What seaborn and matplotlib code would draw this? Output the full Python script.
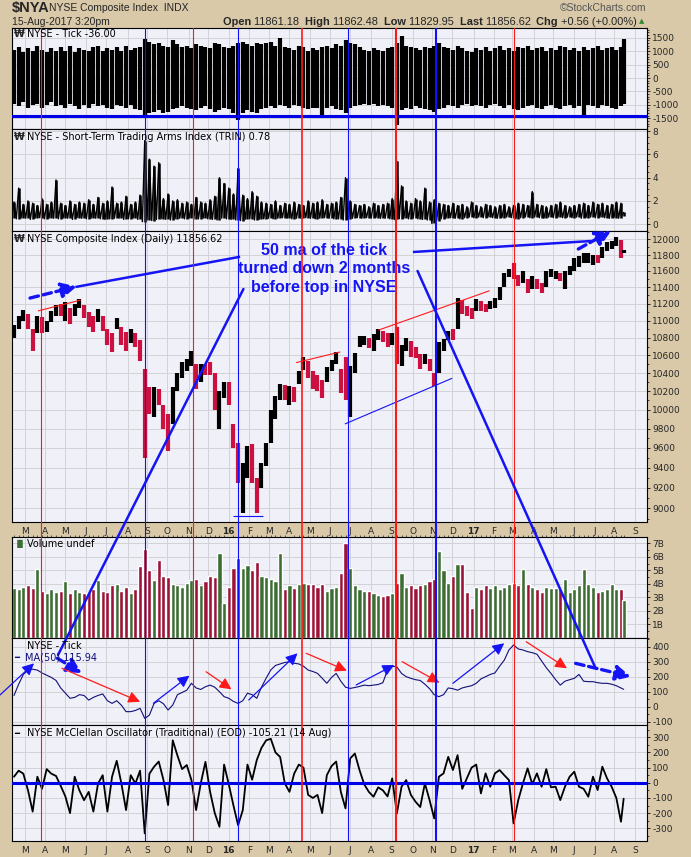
import numpy as np
import pandas as pd
import matplotlib
matplotlib.use("Agg")
import matplotlib.pyplot as plt
import matplotlib.dates as mdates
from matplotlib.patches import ConnectionPatch
from matplotlib.ticker import FixedLocator, FixedFormatter, NullLocator, NullFormatter
import seaborn as sns

# ---------------- data: weekly samples ----------------
weeks = list(pd.date_range("2015-02-13", "2017-08-11", freq="W-FRI")) + [pd.Timestamp("2017-08-15")]

price_close = [
    10900, 11020, 11080, 10950, 10700, 11000, 10900, 10950, 11080, 11150,
    11120, 11150, 11000, 11150, 11230, 11080, 10950, 10900, 11100, 10950,
    10800, 10700, 10980, 10800, 10760, 10820, 10780, 10560, 10150, 10050,
    10150, 10120, 9900, 9700, 10200, 10350, 10480, 10520, 10550, 10250,
    10470, 10440, 10400, 10050, 10100, 10250, 10150, 9650, 9300, 9350,
    9570, 9350, 9150, 9430, 9600, 9980, 10100, 10250, 10150, 10230,
    10150, 10400, 10530, 10420, 10330, 10280, 10250, 10450, 10520, 10560,
    10300, 10150, 10450, 10600, 10780, 10780, 10720, 10800, 10850, 10800,
    10750, 10820, 10530, 10600, 10750, 10700, 10640, 10520, 10580, 10480,
    10270, 10700, 10730, 10850, 10820, 11230, 11150, 11120, 11050, 11220,
    11180, 11160, 11200, 11240, 11370, 11530, 11600, 11550, 11450, 11550,
    11400, 11480, 11450, 11370, 11520, 11560, 11560, 11520, 11520, 11620,
    11720, 11740, 11750, 11760, 11760, 11740, 11880, 11930, 11950, 11980,
    11780, 11857]
price_high = [
    10950, 11060, 11130, 11080, 10900, 11050, 11040, 11000, 11120, 11180,
    11200, 11220, 11150, 11200, 11260, 11180, 11100, 11050, 11140, 11060,
    10900, 10850, 11030, 10920, 10870, 10900, 10850, 10780, 10450, 10250,
    10250, 10230, 10050, 9950, 10250, 10400, 10520, 10560, 10650, 10500,
    10500, 10500, 10520, 10400, 10200, 10300, 10300, 9850, 9650, 9450,
    9620, 9640, 9300, 9450, 9650, 10000, 10150, 10280, 10270, 10260,
    10250, 10420, 10580, 10540, 10420, 10380, 10320, 10470, 10550, 10640,
    10450, 10580, 10480, 10630, 10820, 10820, 10800, 10840, 10900, 10880,
    10850, 10860, 10920, 10720, 10800, 10760, 10700, 10620, 10620, 10560,
    10400, 10750, 10790, 10880, 10900, 11270, 11250, 11170, 11150, 11260,
    11230, 11200, 11230, 11270, 11400, 11580, 11630, 11700, 11550, 11600,
    11500, 11540, 11500, 11450, 11600, 11620, 11600, 11580, 11600, 11660,
    11760, 11790, 11820, 11820, 11800, 11800, 11900, 11960, 11980, 12030,
    11990, 11862]
price_low = [
    10800, 10900, 11000, 10900, 10650, 10850, 10850, 10870, 10980, 11050,
    11050, 11000, 10960, 11050, 11150, 11030, 10920, 10870, 10980, 10880,
    10720, 10640, 10900, 10720, 10650, 10740, 10700, 10530, 9500, 9950,
    9920, 10050, 9800, 9570, 9850, 10200, 10350, 10420, 10480, 10230,
    10300, 10380, 10380, 10000, 9800, 10130, 10050, 9600, 9250, 8950,
    9300, 9250, 8950, 9200, 9420, 9650, 9900, 10100, 10100, 10050,
    10080, 10280, 10430, 10350, 10230, 10200, 10130, 10300, 10420, 10500,
    10180, 10100, 9920, 10400, 10700, 10720, 10680, 10650, 10780, 10750,
    10700, 10720, 10500, 10480, 10650, 10580, 10570, 10450, 10500, 10420,
    10260, 10400, 10650, 10780, 10780, 10900, 11080, 11060, 11020, 11120,
    11120, 11100, 11140, 11150, 11250, 11400, 11520, 11500, 11420, 11450,
    11330, 11380, 11380, 11330, 11400, 11520, 11500, 11480, 11380, 11550,
    11600, 11650, 11700, 11700, 11680, 11700, 11760, 11850, 11880, 11920,
    11760, 11830]

tick_high = [
    1050, 1150, 980, 1100, 1000, 1200, 1050, 950, 1100, 1000,
    1150, 1000, 1200, 950, 1100, 1050, 1000, 1150, 1200, 1000,
    1100, 1050, 1150, 1000, 1200, 1050, 1100, 1150, 1450, 1350,
    1250, 1300, 1200, 1150, 1400, 1250, 1150, 1200, 1100, 1250,
    1200, 1150, 1100, 1300, 1250, 1150, 1100, 1200, 1300, 1350,
    1250, 1200, 1300, 1250, 1300, 1350, 1200, 1500, 1150, 1100,
    1050, 1200, 1150, 1000, 1100, 1050, 1150, 1200, 1100, 1250,
    1200, 1400, 1300, 1250, 1150, 1050, 1000, 1100, 1050, 1000,
    1100, 1150, 1300, 1550, 1200, 1150, 1100, 1050, 1150, 1100,
    1200, 1300, 1150, 1100, 1050, 1200, 1100, 1000, 950, 1100,
    1050, 1150, 1000, 1100, 1200, 1050, 1100, 1000, 1150, 1100,
    1200, 1050, 1100, 1150, 1000, 1100, 1050, 1200, 1150, 1050,
    1100, 1000, 1150, 1050, 1100, 1200, 1050, 1100, 1150, 1050,
    1150, 1450]
tick_low = [
    -950, -1050, -900, -1100, -1000, -950, -1100, -1000, -900, -1050,
    -1000, -1100, -950, -1050, -1150, -1000, -1100, -950, -1050, -1000,
    -1100, -1150, -1000, -1050, -1100, -1000, -1150, -1200, -1400, -1300,
    -1250, -1200, -1300, -1250, -1150, -1100, -1050, -1100, -1150, -1200,
    -1100, -1050, -1150, -1250, -1200, -1100, -1150, -1300, -1550, -1300,
    -1200, -1250, -1300, -1150, -1100, -1050, -1100, -1000, -1050, -1100,
    -1000, -1050, -1100, -1150, -1100, -1100, -1500, -1100, -1050, -1150,
    -1200, -1300, -1100, -1050, -1000, -950, -1000, -950, -1050, -1000,
    -1050, -1100, -1750, -1200, -1100, -1150, -1050, -1100, -1150, -1200,
    -1250, -1150, -1100, -1000, -1050, -1100, -1000, -950, -1050, -1000,
    -1050, -1100, -1000, -950, -1050, -1100, -1000, -1150, -1200, -1100,
    -1050, -1000, -1100, -1150, -1050, -1000, -1100, -1150, -1050, -1000,
    -1100, -1050, -1500, -1000, -1050, -1100, -1000, -1050, -1100, -1150,
    -1050, -950]

trin_low = [
    0.55, 0.45, 0.5, 0.5, 0.4, 0.5, 0.55, 0.45, 0.5, 0.5,
    0.45, 0.5, 0.5, 0.4, 0.55, 0.5, 0.45, 0.5, 0.5, 0.45,
    0.4, 0.45, 0.5, 0.5, 0.4, 0.45, 0.5, 0.4, 0.2, 0.35,
    0.3, 0.4, 0.45, 0.4, 0.35, 0.45, 0.5, 0.45, 0.5, 0.4,
    0.45, 0.5, 0.45, 0.4, 0.35, 0.5, 0.45, 0.4, 0.35, 0.3,
    0.4, 0.45, 0.35, 0.4, 0.45, 0.5, 0.45, 0.5, 0.55, 0.5,
    0.45, 0.5, 0.5, 0.55, 0.5, 0.45, 0.5, 0.55, 0.5, 0.45,
    0.45, 0.35, 0.4, 0.5, 0.55, 0.5, 0.55, 0.5, 0.55, 0.5,
    0.5, 0.45, 0.4, 0.45, 0.5, 0.45, 0.5, 0.45, 0.4, 0.35,
    0.05, 0.3, 0.45, 0.5, 0.55, 0.5, 0.45, 0.55, 0.6, 0.55,
    0.6, 0.55, 0.6, 0.55, 0.5, 0.55, 0.6, 0.55, 0.45, 0.55,
    0.6, 0.55, 0.6, 0.55, 0.5, 0.6, 0.55, 0.6, 0.55, 0.6,
    0.55, 0.6, 0.5, 0.55, 0.6, 0.55, 0.6, 0.55, 0.5, 0.55,
    0.5, 0.7]
trin_high = [
    1.9, 3.1, 1.7, 2.0, 1.8, 1.6, 2.2, 1.7, 1.9, 3.8,
    1.8, 1.6, 2.0, 1.7, 1.9, 1.8, 2.1, 1.7, 2.3, 1.8,
    2.0, 3.2, 1.8, 1.9, 2.4, 1.7, 1.9, 2.5, 7.2, 5.6,
    5.0, 5.3, 2.2, 2.6, 2.0, 2.1, 1.8, 1.9, 1.7, 2.3,
    1.9, 1.8, 2.1, 2.4, 4.0, 3.5, 3.1, 2.6, 4.8, 2.5,
    2.2, 2.8, 2.4, 1.9, 1.8, 1.7, 2.0, 1.6, 1.8, 1.7,
    1.9, 1.7, 1.6, 2.0, 1.8, 1.9, 2.1, 1.7, 1.8, 1.9,
    2.3, 4.0, 2.0, 1.7, 1.6, 1.7, 1.5, 1.8, 1.6, 1.7,
    1.8, 2.2, 5.4, 3.3, 2.0, 1.8, 2.2, 2.0, 3.1, 1.9,
    2.1, 1.8, 1.7, 1.6, 1.8, 1.6, 1.7, 1.5, 1.9, 1.6,
    1.5, 1.7, 1.6, 1.5, 1.6, 1.7, 1.5, 1.6, 1.8, 1.7,
    1.6, 2.8, 1.7, 1.6, 1.5, 1.6, 1.7, 1.9, 1.6, 1.5,
    1.6, 1.7, 1.8, 1.6, 1.9, 1.7, 1.8, 1.6, 1.7, 1.9,
    1.8, 1.0]

volume_b = [
    3.7, 3.6, 3.8, 3.9, 3.7, 5.1, 3.5, 3.3, 3.6, 3.4,
    3.5, 4.2, 3.3, 3.6, 3.4, 3.3, 3.4, 3.6, 4.3, 3.5,
    3.4, 3.9, 4.0, 3.5, 3.8, 3.3, 3.6, 5.3, 6.6, 5.0,
    4.3, 5.8, 4.6, 4.5, 4.0, 3.9, 3.8, 4.1, 4.3, 4.4,
    3.9, 4.2, 4.6, 4.5, 6.3, 2.6, 3.8, 5.2, 5.9, 5.2,
    5.4, 5.0, 5.6, 4.6, 4.5, 4.4, 4.2, 6.3, 3.6, 3.9,
    3.7, 4.0, 4.1, 4.0, 4.0, 3.8, 4.0, 3.5, 3.7, 3.8,
    4.8, 7.0, 5.2, 3.9, 3.6, 3.5, 3.5, 3.3, 3.2, 3.1,
    3.2, 3.3, 4.1, 4.8, 3.8, 3.9, 3.7, 3.9, 4.0, 4.2,
    4.4, 6.4, 5.0, 4.1, 4.6, 5.5, 5.5, 3.4, 2.2, 3.8,
    3.6, 3.9, 3.7, 3.9, 3.6, 3.8, 4.0, 4.1, 3.9, 5.1,
    4.0, 3.8, 3.6, 3.4, 3.8, 3.7, 3.7, 3.6, 4.4, 3.4,
    3.6, 3.9, 5.1, 4.0, 3.8, 3.4, 3.5, 3.6, 4.0, 3.6,
    3.6, 2.8]

tick_ma50 = [
    75, 150, 215, 245, 250, 244, 225, 210, 195, 175,
    125, 90, 56, 62, 80, 75, 44, 62, 75, 85,
    40, 22, 40, 10, -33, -33, -25, -11, -78, -56,
    22, 40, 20, -22, 11, 80, 95, 110, 156, 125,
    115, 133, 144, 130, 100, 67, 56, 35, 22, 40,
    90, 80, 56, 130, 190, 245, 275, 285, 295, 300,
    290, 285, 270, 244, 235, 222, 190, 156, 195, 222,
    170, 130, 122, 128, 135, 144, 140, 144, 148, 160,
    244, 270, 265, 222, 200, 189, 180, 175, 150, 120,
    80, 67, 80, 125, 120, 110, 125, 133, 140, 156,
    185, 200, 215, 225, 270, 310, 378, 411, 385, 378,
    367, 360, 350, 305, 260, 222, 180, 144, 170, 180,
    189, 215, 170, 167, 167, 160, 156, 156, 150, 140,
    125, 116]

mcclellan = [
    40, 80, 60, -50, -190, 40, -40, 90, 60, 45,
    -20, -90, -200, 40, -50, -115, -60, -190, -5, 50,
    -190, 40, 145, -5, -180, 50, -5, 80, -334, 60,
    106, 140, 20, -147, 280, 180, 90, 117, 18, -180,
    -4, 138, -60, -200, -290, 120, -10, -150, -280, -180,
    120, 20, 150, 230, 280, 290, 200, 170, -4, -60,
    60, 120, 100, -80, -100, -80, -200, 50, 110, 140,
    -60, -169, 160, 193, 84, -10, -60, -92, -30, -50,
    -90, 29, -202, -26, 18, -80, -125, -160, -4, -114,
    -235, 40, 62, 171, 84, 182, -40, 30, 100, 120,
    -70, 62, -26, 62, 84, 50, 18, -268, -114, -4,
    95, -10, 62, -26, 90, -30, -26, -114, -26, 40,
    73, -26, -40, -92, 40, -48, 106, 30, -26, -100,
    -257, -105]

# vertical marker lines drawn on the original chart
red_events = ["2015-03-25", "2015-11-09", "2016-04-20", "2016-09-07", "2017-03-03"]
red_widths = [0.8, 0.8, 1.2, 1.5, 0.8]
blue_events = ["2015-08-28", "2016-01-15", "2016-06-28", "2016-11-07"]
blue_widths = [0.8, 0.8, 0.8, 1.5]

month_starts = pd.date_range("2015-03-01", "2017-09-01", freq="BMS")
month_labels = [d.strftime("%y") if d.month == 1 else d.strftime("%b")[0] for d in month_starts]

# ---------------- style ----------------
W, H = 691, 857
BG = "#D9C9A9"
PANEL = "#F0F0F8"
GRID = "#D2D2D6"
BLUE = "#1414F5"
RED = "#FF1A1A"
PRICE_RED = "#CC1040"

sns.set_style("white")
plt.rcParams["font.family"] = ["DejaVu Sans"]

d2n = lambda s: mdates.date2num(pd.Timestamp(s))
x = mdates.date2num(weeks)
month_x = mdates.date2num(month_starts)
xmin, xmax = d2n("2015-02-10"), d2n("2017-09-19")

fig = plt.figure(figsize=(W / 100, H / 100), dpi=100, facecolor=BG)


def add_panel(top, bottom):
    return fig.add_axes([12 / W, 1 - bottom / H, 635 / W, (bottom - top) / H])


def style(ax, ylim, ticks, labels, minor=None, xlabels=False, log=False):
    ax.set_facecolor(PANEL)
    if log:
        ax.set_yscale("log")
    ax.set_xlim(xmin, xmax)
    ax.set_ylim(*ylim)
    ax.yaxis.tick_right()
    ax.yaxis.set_major_locator(FixedLocator(ticks))
    ax.yaxis.set_major_formatter(FixedFormatter(labels))
    ax.yaxis.set_minor_locator(FixedLocator(minor) if minor is not None else NullLocator())
    ax.yaxis.set_minor_formatter(NullFormatter())
    ax.xaxis.set_major_locator(FixedLocator(month_x))
    ax.xaxis.set_minor_locator(NullLocator())
    ax.grid(True, which="major", color=GRID, lw=0.7)
    ax.set_axisbelow(True)
    ax.tick_params(axis="y", which="major", length=2.5, width=0.7, pad=1.2, labelsize=6.5)
    ax.tick_params(axis="y", which="minor", length=1.5, width=0.6)
    if xlabels:
        ax.xaxis.set_major_formatter(FixedFormatter(month_labels))
        ax.xaxis.set_minor_locator(FixedLocator(x))
        ax.tick_params(axis="x", length=2.5, width=0.6, pad=1.0, labelsize=6.5)
        ax.tick_params(axis="x", which="minor", length=1.5, width=0.5)
        for t in ax.get_xticklabels():
            if t.get_text().isdigit():
                t.set_fontweight("bold")
    else:
        ax.tick_params(axis="x", length=0, labelbottom=False)
    for sp in ax.spines.values():
        sp.set_color("black")
        sp.set_linewidth(0.8)


ax_tick = add_panel(28.3, 129)
ax_trin = add_panel(129, 231)
ax_px = add_panel(231, 522.3)
ax_vol = add_panel(537, 638)
ax_tma = add_panel(638, 725)
ax_mco = add_panel(725, 840.7)

# NYSE tick (weekly high-low range)
ax_tick.vlines(x, tick_low, tick_high, color="black", lw=3.0, zorder=2)
ax_tick.axhline(-1400, color="#0000E6", lw=2.2, zorder=3)
style(ax_tick, (-1898, 1850), [1500, 1000, 500, 0, -500, -1000, -1500],
      ["1500", "1000", "500", "0", "-500", "-1000", "-1500"], minor=np.arange(-1800, 1801, 100))

# TRIN as a dense zig-zag line through weekly lows and highs
trin_x = np.ravel(np.column_stack([x - 3.5, x]))
trin_y = np.ravel(np.column_stack([trin_low, trin_high]))
sns.lineplot(x=trin_x, y=trin_y, ax=ax_trin, color="black", lw=1.0, sort=False, estimator=None)
ax_trin.vlines(x, trin_low, trin_high, color="black", lw=1.8)
style(ax_trin, (-0.6, 8.2), [0, 2, 4, 6, 8], ["0", "2", "4", "6", "8"], minor=np.arange(0, 8.1, 0.5))

# price bars
close = np.array(price_close)
up = np.r_[True, close[1:] >= close[:-1]]
bar_colors = np.where(up, "black", PRICE_RED)
ax_px.vlines(x, price_low, price_high, colors=bar_colors, lw=3.0, zorder=2)
price_ticks = list(range(9000, 12001, 200))
style(ax_px, (8866, 12107), price_ticks, [str(v) for v in price_ticks],
      minor=list(range(8900, 12101, 100)), xlabels=True, log=True)

# volume
vol_colors = np.where(up, "#3C6E34", "#9C1238")
ax_vol.bar(x, volume_b, width=6.2, color=vol_colors, zorder=2)
style(ax_vol, (0, 7.47), [1, 2, 3, 4, 5, 6, 7], [f"{v}B" for v in range(1, 8)],
      minor=np.arange(0, 7.5, 0.5))
ax_vol.xaxis.set_minor_locator(FixedLocator(x))
ax_vol.tick_params(axis="x", which="minor", top=True, bottom=False, length=1.5, width=0.5)

# 50-day MA of the tick
sns.lineplot(x=x, y=tick_ma50, ax=ax_tma, color="#10107A", lw=0.8)
style(ax_tma, (-122, 458), [-100, 0, 100, 200, 300, 400],
      ["-100", "0", "100", "200", "300", "400"], minor=np.arange(-100, 451, 50))

# McClellan oscillator
sns.lineplot(x=x, y=mcclellan, ax=ax_mco, color="black", lw=1.3)
ax_mco.axhline(0, color="#0000E6", lw=2.2, zorder=3)
style(ax_mco, (-382, 381), [-300, -200, -100, 0, 100, 200, 300],
      ["-300", "-200", "-100", "0", "100", "200", "300"], minor=np.arange(-350, 351, 50), xlabels=True)

# event lines through every panel
overlay = fig.add_axes([12 / W, 1 - 840.7 / H, 635 / W, (840.7 - 28.3) / H])
overlay.set_xlim(xmin, xmax)
overlay.axis("off")
overlay.patch.set_alpha(0)
for d, w in zip(red_events, red_widths):
    overlay.axvline(d2n(d), color=RED, lw=w)
for d, w in zip(blue_events, blue_widths):
    overlay.axvline(d2n(d), color="#1010FF", lw=w)

# ---------------- annotations ----------------
def seg(ax, a, b, color, lw):
    ax.plot([d2n(a[0]), d2n(b[0])], [a[1], b[1]], color=color, lw=lw, solid_capstyle="butt", zorder=4)


def arrow(ax, a, b, color, lw=0.9, dashed=False, big=False):
    style_s = "-|>,head_length=0.9,head_width=0.45" if big else "-|>,head_length=0.7,head_width=0.35"
    props = dict(arrowstyle=style_s, color=color, lw=lw, shrinkA=0, shrinkB=0)
    if dashed:
        props["linestyle"] = (0, (2.6, 1.4))
    ax.annotate("", xy=(d2n(b[0]), b[1]), xytext=(d2n(a[0]), a[1]),
                arrowprops=props, annotation_clip=False, zorder=5)


# trend lines on the index
seg(ax_px, ("2015-03-21", 11115), ("2015-05-24", 11245), RED, 0.8)
seg(ax_px, ("2016-04-11", 10517), ("2016-06-16", 10638), RED, 0.8)
seg(ax_px, ("2016-08-12", 10888), ("2017-01-26", 11358), RED, 0.8)
seg(ax_px, ("2016-06-23", 9849), ("2016-12-01", 10343), BLUE, 0.8)
seg(ax_px, ("2016-01-07", 8929), ("2016-02-21", 8929), BLUE, 0.8)

# big blue call-out lines
seg(ax_px, ("2015-05-16", 11403), ("2016-01-18", 11778), BLUE, 1.8)
arrow(ax_px, ("2015-03-09", 11269), ("2015-05-18", 11410), BLUE, lw=2.4, dashed=True, big=True)
seg(ax_px, ("2016-10-03", 11838), ("2017-06-27", 11978), BLUE, 1.8)
arrow(ax_px, ("2017-06-08", 11876), ("2017-07-27", 12107), BLUE, lw=2.4, dashed=True, big=True)

for a, b in [(("2016-01-23", 11379), ("2015-04-20", 345)),
             (("2016-10-10", 11600), ("2017-07-04", 256))]:
    cp = ConnectionPatch(xyA=(d2n(a[0]), a[1]), coordsA=ax_px.transData,
                         xyB=(d2n(b[0]), b[1]), coordsB=ax_tma.transData,
                         color=BLUE, lw=1.8)
    fig.add_artist(cp)

ax_px.text(d2n("2016-05-23"), 11629, "50 ma of the tick\nturned down 2 months\nbefore top in NYSE",
           ha="center", va="center", color=BLUE, fontsize=11.5, fontweight="bold",
           family="Liberation Sans", linespacing=1.3, zorder=6)

# arrows on the tick moving average
arrow(ax_tma, ("2015-04-19", 323), ("2015-05-26", 223), BLUE, lw=2.4, dashed=True, big=True)
arrow(ax_tma, ("2017-06-04", 289), ("2017-08-26", 200), BLUE, lw=2.4, dashed=True, big=True)
tma_arrows = [
    (("2015-01-23", 78), ("2015-03-15", 289), BLUE),
    (("2015-04-26", 256), ("2015-08-21", 33), RED),
    (("2015-09-10", 23), ("2015-11-03", 207), BLUE),
    (("2015-11-28", 233), ("2016-01-05", 116), RED),
    (("2016-01-31", 45), ("2016-04-13", 356), BLUE),
    (("2016-04-26", 356), ("2016-06-26", 240), RED),
    (("2016-07-10", 145), ("2016-09-05", 278), BLUE),
    (("2016-09-17", 300), ("2016-11-12", 160), RED),
    (("2016-12-02", 156), ("2017-02-17", 423), BLUE),
    (("2017-03-22", 433), ("2017-05-22", 256), RED),
]
for a, b, c in tma_arrows:
    arrow(ax_tma, a, b, c, lw=0.9)

# ---------------- texts ----------------
def ftext(xp, yp, s, **kw):
    kw.setdefault("va", "center")
    return fig.text(xp / W, 1 - yp / H, s, **kw)


ftext(12, 8, "$NYA", fontsize=10.5, fontweight="bold", family="Liberation Sans")
ftext(49, 8, "NYSE Composite Index  INDX", fontsize=7.5, family="Liberation Sans")
ftext(646, 8, "\u00a9StockCharts.com", fontsize=7.5, family="Liberation Sans", color="#555555", ha="right")
ftext(12, 22, "15-Aug-2017 3:20pm", fontsize=7.5, family="Liberation Sans")

parts = [("Open ", True), ("11861.18  ", False), ("High ", True), ("11862.48  ", False),
         ("Low ", True), ("11829.95  ", False), ("Last ", True), ("11856.62  ", False),
         ("Chg ", True), ("+0.56 (+0.00%)", False)]
renderer = fig.canvas.get_renderer()
texts, widths = [], []
for s, b in parts:
    t = ftext(0, 22, s, fontsize=7.9, family="Liberation Sans", fontweight="bold" if b else "normal")
    texts.append(t)
    widths.append(t.get_window_extent(renderer=renderer).width)
pos = 637 - sum(widths)
for t, w in zip(texts, widths):
    t.set_x(pos / W)
    pos += w
ftext(642, 21.5, "\u25b2", fontsize=5, color="#2E8B2E", ha="center")

lab = dict(fontsize=7, color="black")
ftext(14, 34, "\u20a9", fontsize=7, fontweight="bold")
ftext(27, 34, "NYSE - Tick -36.00", **lab)
ftext(14, 137, "\u20a9", fontsize=7, fontweight="bold")
ftext(27, 137, "NYSE - Short-Term Trading Arms Index (TRIN) 0.78", **lab)
ftext(14, 239, "\u20a9", fontsize=7, fontweight="bold")
ftext(27, 239, "NYSE Composite Index (Daily) 11856.62", **lab)
ftext(14, 544, "\u2590\u258c", fontsize=6, color="#3C6E34")
ftext(27, 544, "Volume undef", **lab)
ftext(27, 646, "NYSE - Tick", **lab)
ftext(14, 657, "\u2501", fontsize=6, color="#10107A")
ftext(25, 657, "MA(50) 115.94", fontsize=7, color="#10107A")
ftext(14, 733, "\u2501", fontsize=6, color="black")
ftext(27, 733, "NYSE McClellan Oscillator (Traditional) (EOD) -105.21 (14 Aug)", **lab)

fig.savefig("out.png", dpi=100, facecolor=BG)
